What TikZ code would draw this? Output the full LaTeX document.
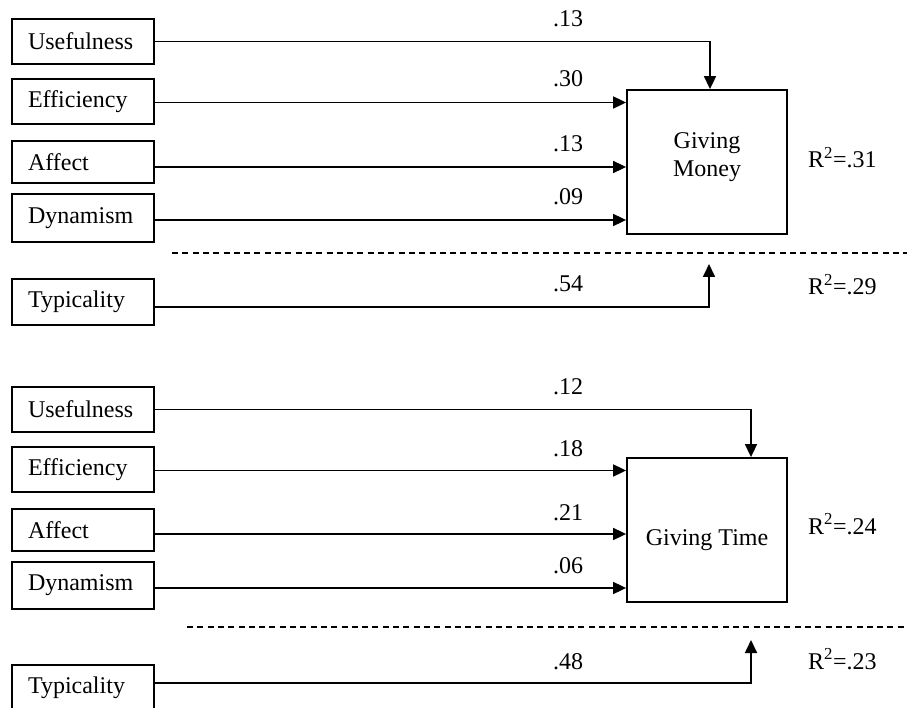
\documentclass[tikz,border=0pt]{standalone}
\usepackage{fontspec}
\setmainfont{Liberation Serif}
\usetikzlibrary{arrows.meta}
\begin{document}
\begin{tikzpicture}[x=1pt,y=-1pt,
  every node/.style={font=\fontsize{24}{28}\selectfont},
  predbox/.style={draw, line width=1.8pt, minimum width=142pt, text width=110pt, inner xsep=16pt, align=left, inner ysep=0pt},
  outbox/.style={draw, line width=1.8pt, minimum width=160pt, minimum height=144pt, inner sep=0pt},
  arr/.style={line width=1.7pt, -{Triangle[length=13pt,width=12pt]}},
  sep/.style={line width=1.4pt, dash pattern=on 6pt off 4.3pt},
  lbl/.style={inner sep=0pt, anchor=base west}]
\clip (0,0) rectangle (907,708);
\fill[white] (0,0) rectangle (907,708);

% ---------- top panel ----------
\node[predbox, minimum height=45pt] (U1) at (83,41.5) {Usefulness};
\node[predbox, minimum height=45pt] (E1) at (83,101.5) {Efficiency};
\node[predbox, minimum height=42pt] (A1) at (83,162) {Affect};
\node[predbox, minimum height=48pt] (D1) at (83,218) {Dynamism};
\node[predbox, minimum height=46pt] (T1) at (83,302) {Typicality};
\node[outbox, label={[name=GMtext, inner sep=0pt, align=center, yshift=4.6pt]center:Giving\\Money}] (GM) at (707,162) {};

\draw[arr] (U1.east) -| ([xshift=3pt]GM.north);
\draw[arr] (E1.east) ++(0,1) coordinate (e1s) -- (e1s -| GM.west);
\draw[arr] (A1.east) ++(0,5) coordinate (a1s) -- (a1s -| GM.west);
\draw[arr] (D1.east) ++(0,2) coordinate (d1s) -- (d1s -| GM.west);
\coordinate (t1end) at (709,264);
\draw[arr] (T1.east) ++(0,5) coordinate (t1s) -| (t1end);

\coordinate (s1a) at (172,253);
\coordinate (s1b) at (907,253);
\draw[sep] (s1a) -- (s1b);

\node[lbl] (l1) at (553,27) {.13};
\node[lbl] (l2) at (553,87) {.30};
\node[lbl] (l3) at (553,152) {.13};
\node[lbl] (l4) at (553,205) {.09};
\node[lbl] (l5) at (553,292) {.54};
\node[lbl] (r1) at (808,168) {R\textsuperscript{2}=.31};
\node[lbl] (r2) at (808,295) {R\textsuperscript{2}=.29};

% ---------- bottom panel ----------
\node[predbox, minimum height=45pt] (U2) at (83,409.5) {Usefulness};
\node[predbox, minimum height=45pt] (E2) at (83,469.5) {Efficiency};
\node[predbox, minimum height=42pt] (A2) at (83,530) {Affect};
\node[predbox, minimum height=47pt] (D2) at (83,585.5) {Dynamism};
\node[predbox, minimum height=46pt] (T2) at (83,688) {Typicality};
\node[outbox, label={[name=GTtext, inner sep=0pt, yshift=-10pt]center:Giving Time}] (GT) at (707,530) {};

\draw[arr] (U2.east) -| ([xshift=44pt]GT.north);
\draw[arr] (E2.east) ++(0,1) coordinate (e2s) -- (e2s -| GT.west);
\draw[arr] (A2.east) ++(0,4) coordinate (a2s) -- (a2s -| GT.west);
\draw[arr] (D2.east) ++(0,2.5) coordinate (d2s) -- (d2s -| GT.west);
\coordinate (t2end) at (751,640);
\draw[arr] (T2.east) ++(0,-5) coordinate (t2s) -| (t2end);

\coordinate (s2a) at (187,627);
\coordinate (s2b) at (907,627);
\draw[sep] (s2a) -- (s2b);

\node[lbl] (m1) at (553,394) {.12};
\node[lbl] (m2) at (553,456) {.18};
\node[lbl] (m3) at (553,520) {.21};
\node[lbl] (m4) at (553,573) {.06};
\node[lbl] (m5) at (553,669) {.48};
\node[lbl] (r3) at (808,534) {R\textsuperscript{2}=.24};
\node[lbl] (r4) at (808,669) {R\textsuperscript{2}=.23};
\end{tikzpicture}
\end{document}
